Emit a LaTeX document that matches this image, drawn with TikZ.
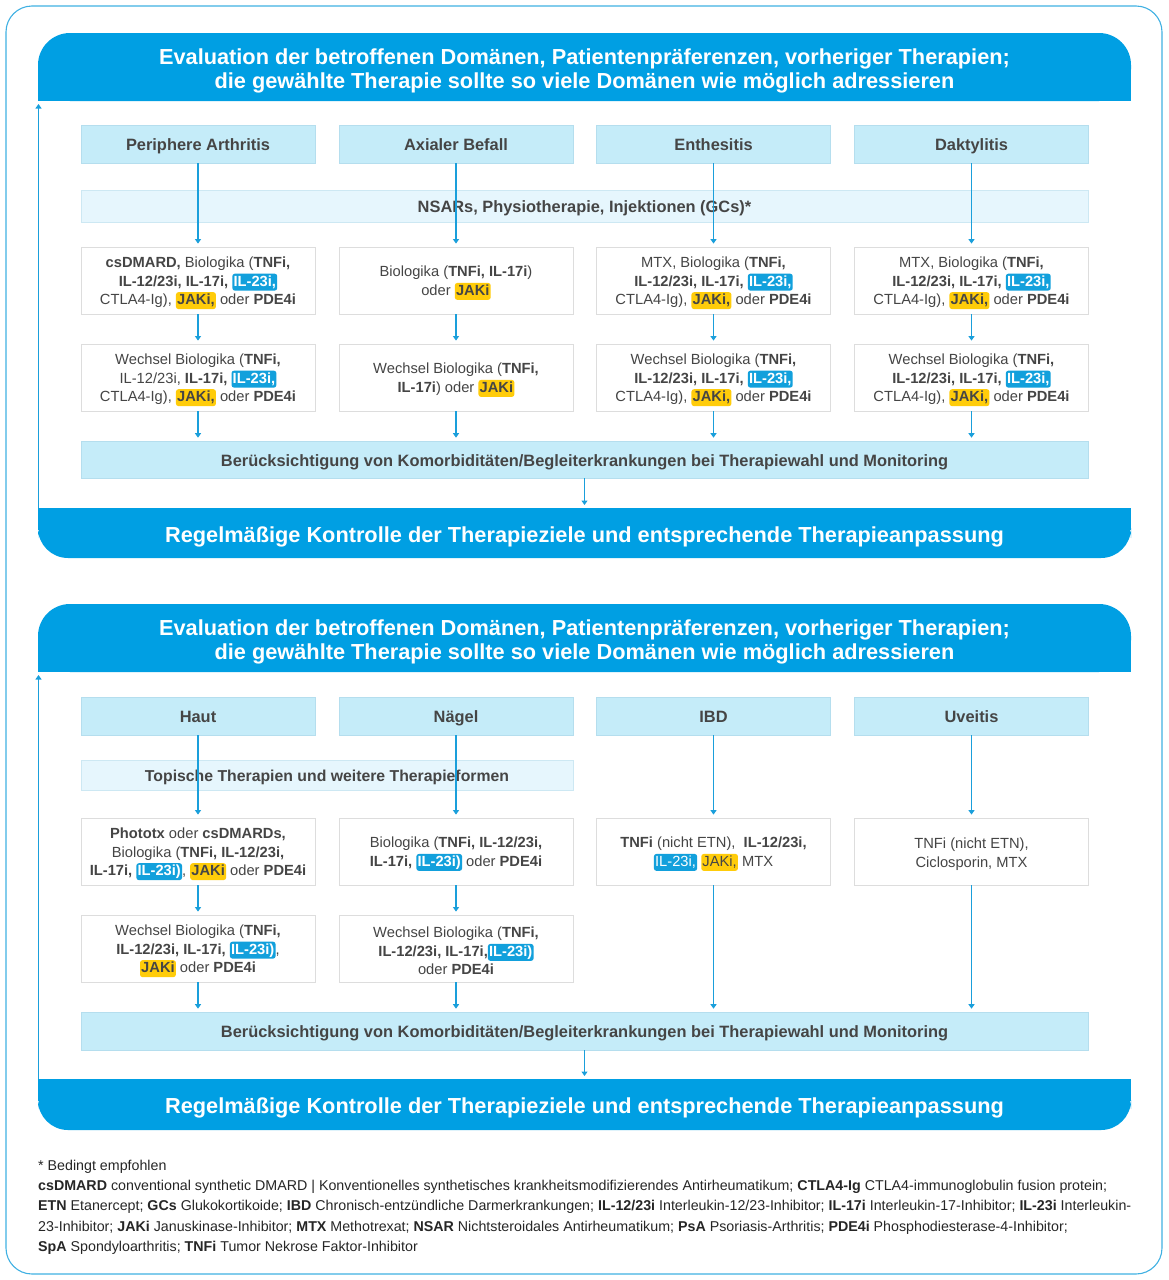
\documentclass[tikz,border=0pt]{standalone}
\usepackage{fontspec}
\setmainfont{Liberation Sans}
\usetikzlibrary{arrows.meta}
\definecolor{bannerblue}{HTML}{009FE3}
\definecolor{headfill}{HTML}{C5ECF9}
\definecolor{headline}{HTML}{B5DEEE}
\definecolor{barfill}{HTML}{E6F6FD}
\definecolor{barline}{HTML}{CDE8F3}
\definecolor{boxline}{HTML}{DDDDDD}
\definecolor{arrowblue}{HTML}{1A9FDB}
\definecolor{txt}{HTML}{454545}
\definecolor{hlblue}{HTML}{12A0DC}
\definecolor{hlyellow}{HTML}{FFCC0A}
\definecolor{frameblue}{HTML}{3FB0E2}
\newcommand{\hlb}[1]{\tikz[baseline=(hlx.base)]\node[fill=hlblue,text=white,rounded corners=2.5pt,inner xsep=1.2pt,inner ysep=1.5pt,text height=10.8pt,text depth=3.1pt,minimum width=0pt,minimum height=0pt,draw=none,outer sep=0pt,anchor=base](hlx){#1};}
\newcommand{\hly}[1]{\tikz[baseline=(hly.base)]\node[fill=hlyellow,text=txt,rounded corners=2.5pt,inner xsep=1.2pt,inner ysep=1.5pt,text height=10.8pt,text depth=3.1pt,minimum width=0pt,minimum height=0pt,draw=none,outer sep=0pt,anchor=base](hly){#1};}
\newcommand{\fl}{\rule{0pt}{15.6pt}}
\tikzset{
  bannertext/.style={text=white,font=\bfseries\fontsize{21.75}{24.5}\selectfont,align=center,inner sep=0pt},
  head/.style={fill=headfill,draw=headline,line width=0.6pt,minimum width=234pt,minimum height=38pt,inner sep=0pt,text height=13.2pt,text depth=0pt,font=\bfseries\fontsize{16.4}{19}\selectfont,text=txt},
  bar/.style={fill=barfill,draw=barline,line width=0.6pt,inner sep=0pt,text height=13.2pt,text depth=0pt,font=\bfseries\fontsize{16.4}{19}\selectfont,text=txt},
  cbar/.style={fill=headfill,draw=headline,line width=0.6pt,inner sep=0pt,text height=13.2pt,text depth=0pt,minimum width=1007pt,font=\bfseries\fontsize{16.4}{19}\selectfont,text=txt},
  tbox/.style={draw=boxline,fill=white,line width=0.8pt,minimum width=234pt,minimum height=67pt,inner sep=0pt,align=center,font=\fontsize{14.7}{18.5}\selectfont,text=txt},
  arr/.style={draw=arrowblue,line width=1.1pt,-{Triangle[length=4.5pt,width=6pt]},shorten >=3pt},
  foot/.style={anchor=base west,inner sep=0pt,font=\fontsize{14.25}{16}\selectfont,text=black!85}
}
\begin{document}
\begin{tikzpicture}[x=1pt,y=-1pt]
\useasboundingbox (0,0) rectangle (1169,1280);
\draw[frameblue,line width=1.1pt,rounded corners=26pt] (6,6) rectangle (1162,1274);

% ===== Section 1 =====
\fill[bannerblue,rounded corners=32pt] (38,33) rectangle (1131,101);
\fill[bannerblue] (38,70) rectangle (1131,101);
\node[bannertext] (top1) at (584.5,71) {Evaluation der betroffenen Domänen, Patientenpräferenzen, vorheriger Therapien;\\ die gewählte Therapie sollte so viele Domänen wie möglich adressieren};

\node[head] (h11) at (198,144) {Periphere Arthritis};
\node[head] (h12) at (456,144) {Axialer Befall};
\node[head] (h13) at (713.5,144) {Enthesitis};
\node[head] (h14) at (971.5,144) {Daktylitis};

\node[bar,minimum width=1007pt,minimum height=32pt] (nsar) at (584.5,206) {NSARs, Physiotherapie, Injektionen (GCs)*};

\node[tbox] (t11) at (198,280.5) {\fl\textbf{csDMARD,} Biologika (\textbf{TNFi,}\\ \textbf{IL-12/23i, IL-17i,} \hlb{\textbf{IL-23i,}}\\ CTLA4-Ig), \hly{\textbf{JAKi,}} oder \textbf{PDE4i}};
\node[tbox] (t12) at (456,280.5) {\fl Biologika (\textbf{TNFi, IL-17i})\\ oder \hly{\textbf{JAKi}}};
\node[tbox] (t13) at (713.5,280.5) {\fl MTX, Biologika (\textbf{TNFi,}\\ \textbf{IL-12/23i, IL-17i,} \hlb{\textbf{IL-23i,}}\\ CTLA4-Ig), \hly{\textbf{JAKi,}} oder \textbf{PDE4i}};
\node[tbox] (t14) at (971.5,280.5) {\fl MTX, Biologika (\textbf{TNFi,}\\ \textbf{IL-12/23i, IL-17i,} \hlb{\textbf{IL-23i,}}\\ CTLA4-Ig), \hly{\textbf{JAKi,}} oder \textbf{PDE4i}};

\node[tbox] (u11) at (198,377.5) {\fl Wechsel Biologika (\textbf{TNFi,}\\ IL-12/23i, \textbf{IL-17i,} \hlb{\textbf{IL-23i,}}\\ CTLA4-Ig), \hly{\textbf{JAKi,}} oder \textbf{PDE4i}};
\node[tbox] (u12) at (456,377.5) {\fl Wechsel Biologika (\textbf{TNFi,}\\ \textbf{IL-17i}) oder \hly{\textbf{JAKi}}};
\node[tbox] (u13) at (713.5,377.5) {\fl Wechsel Biologika (\textbf{TNFi,}\\ \textbf{IL-12/23i, IL-17i,} \hlb{\textbf{IL-23i,}}\\ CTLA4-Ig), \hly{\textbf{JAKi,}} oder \textbf{PDE4i}};
\node[tbox] (u14) at (971.5,377.5) {\fl Wechsel Biologika (\textbf{TNFi,}\\ \textbf{IL-12/23i, IL-17i,} \hlb{\textbf{IL-23i,}}\\ CTLA4-Ig), \hly{\textbf{JAKi,}} oder \textbf{PDE4i}};

\node[cbar,minimum height=37pt] (cm1) at (584.5,459.5) {Berücksichtigung von Komorbiditäten/Begleiterkrankungen bei Therapiewahl und Monitoring};

\fill[bannerblue,rounded corners=30pt] (38,508) rectangle (1131,558);
\fill[bannerblue] (38,508) rectangle (1131,530);
\node[bannertext] (bot1) at (584.5,537) {Regelmäßige Kontrolle der Therapieziele und entsprechende Therapieanpassung};
\coordinate (bb1) at (584.5,508);
\coordinate (l1a) at (38.5,508);
\coordinate (l1b) at (38.5,101);

\foreach \c in {1,...,4}{
  \draw[arr] (h1\c.south) -- (t1\c.north);
  \draw[arr] (t1\c.south) -- (u1\c.north);
  \draw[arr] (u1\c.south) -- (u1\c.south |- cm1.north);
}
\draw[arr] (cm1.south) -- (bb1);
\draw[arr] (l1a) -- (l1b);

% ===== Section 2 =====
\fill[bannerblue,rounded corners=32pt] (38,604) rectangle (1131,672);
\fill[bannerblue] (38,641) rectangle (1131,672);
\node[bannertext] (top2) at (584.5,642) {Evaluation der betroffenen Domänen, Patientenpräferenzen, vorheriger Therapien;\\ die gewählte Therapie sollte so viele Domänen wie möglich adressieren};

\node[head] (h21) at (198,716) {Haut};
\node[head] (h22) at (456,716) {Nägel};
\node[head] (h23) at (713.5,716) {IBD};
\node[head] (h24) at (971.5,716) {Uveitis};

\node[bar,minimum width=492pt,minimum height=30pt,font=\bfseries\fontsize{15.8}{18}\selectfont,text height=12.8pt] (topi) at (327,775) {Topische Therapien und weitere Therapieformen};

\node[tbox] (t21) at (198,851.5) {\fl\textbf{Phototx} oder \textbf{csDMARDs,}\\ Biologika (\textbf{TNFi, IL-12/23i,}\\ \textbf{IL-17i,} \hlb{\textbf{IL-23i)}}, \hly{\textbf{JAKi}} oder \textbf{PDE4i}};
\node[tbox] (t22) at (456,851.5) {\fl Biologika (\textbf{TNFi, IL-12/23i,}\\ \textbf{IL-17i,} \hlb{\textbf{IL-23i)}} oder \textbf{PDE4i}};
\node[tbox] (t23) at (713.5,851.5) {\fl\textbf{TNFi} (nicht ETN),\ \ \textbf{IL-12/23i,}\\ \hlb{IL-23i,} \hly{JAKi,} MTX};
\node[tbox] (t24) at (971.5,851.5) {\fl TNFi (nicht ETN),\\ Ciclosporin, MTX};

\node[tbox] (u21) at (198,948.5) {\fl Wechsel Biologika (\textbf{TNFi,}\\ \textbf{IL-12/23i, IL-17i,} \hlb{\textbf{IL-23i)}},\\ \hly{\textbf{JAKi}} oder \textbf{PDE4i}};
\node[tbox] (u22) at (456,948.5) {\fl Wechsel Biologika (\textbf{TNFi,}\\ \textbf{IL-12/23i, IL-17i,}\hlb{\textbf{IL-23i)}}\\ oder \textbf{PDE4i}};

\node[cbar,minimum height=38pt] (cm2) at (584.5,1031) {Berücksichtigung von Komorbiditäten/Begleiterkrankungen bei Therapiewahl und Monitoring};

\fill[bannerblue,rounded corners=30pt] (38,1079) rectangle (1131,1130);
\fill[bannerblue] (38,1079) rectangle (1131,1101);
\node[bannertext] (bot2) at (584.5,1108) {Regelmäßige Kontrolle der Therapieziele und entsprechende Therapieanpassung};
\coordinate (bb2) at (584.5,1079);
\coordinate (l2a) at (38.5,1079);
\coordinate (l2b) at (38.5,672);

\foreach \c in {1,...,4}{
  \draw[arr] (h2\c.south) -- (t2\c.north);
}
\foreach \c in {1,2}{
  \draw[arr] (t2\c.south) -- (u2\c.north);
  \draw[arr] (u2\c.south) -- (u2\c.south |- cm2.north);
}
\foreach \c in {3,4}{
  \draw[arr] (t2\c.south) -- (t2\c.south |- cm2.north);
}
\draw[arr] (cm2.south) -- (bb2);
\draw[arr] (l2a) -- (l2b);

% ===== Footnotes =====
\node[foot] (f1) at (38,1170) {* Bedingt empfohlen};
\node[foot] (f2) at (38,1190) {\textbf{csDMARD} conventional synthetic DMARD | Konventionelles synthetisches krankheitsmodifizierendes Antirheumatikum; \textbf{CTLA4-Ig} CTLA4-immunoglobulin fusion protein;};
\node[foot] (f3) at (38,1210.5) {\textbf{ETN} Etanercept; \textbf{GCs} Glukokortikoide; \textbf{IBD} Chronisch-entzündliche Darmerkrankungen; \textbf{IL-12/23i} Interleukin-12/23-Inhibitor; \textbf{IL-17i} Interleukin-17-Inhibitor; \textbf{IL-23i} Interleukin-};
\node[foot] (f4) at (38,1231) {23-Inhibitor; \textbf{JAKi} Januskinase-Inhibitor; \textbf{MTX} Methotrexat; \textbf{NSAR} Nichtsteroidales Antirheumatikum; \textbf{PsA} Psoriasis-Arthritis; \textbf{PDE4i} Phosphodiesterase-4-Inhibitor;};
\node[foot] (f5) at (38,1251.5) {\textbf{SpA} Spondyloarthritis; \textbf{TNFi} Tumor Nekrose Faktor-Inhibitor};
\end{tikzpicture}
\end{document}
